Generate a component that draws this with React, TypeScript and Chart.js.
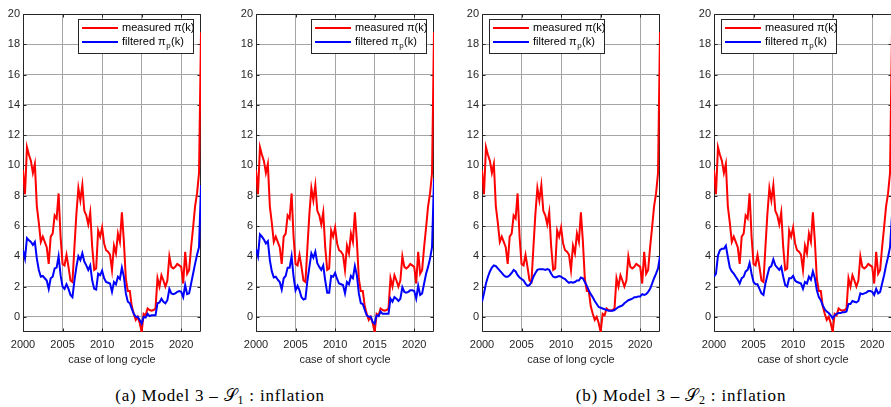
import React, { useEffect, useRef } from "react";
import { Chart, registerables } from "chart.js";

Chart.register(...registerables);

// ---------------- data (quarterly, starting 2000.0) ----------------
const START_YEAR = 2000;
const STEP_YEARS = 0.25;

const measuredInflation = [
  9.7, 8.1, 11.2, 10.7, 10.3, 9.5, 10.1, 7.3, 6.2, 4.95,
  5.3, 4.95, 4.6, 3.5, 5.3, 5.5, 6.7, 6.5, 8.15, 5.3,
  3.5, 3.4, 4.1, 3.3, 2.4, 2.3, 4.6, 6.8, 8.5, 7.7,
  8.7, 7.0, 6.7, 6.1, 6.9, 4.6, 3.1, 3.2, 5.7, 5.3,
  5.9, 4.85, 4.4, 4.3, 4.1, 3.1, 4.7, 4.2, 5.5, 4.95,
  6.9, 5.0, 2.5, 1.7, 1.7, 0.7, 0.2, -0.2, 0.0, -0.4,
  -1.0, 0.2, 0.1, 0.55, 0.45, 0.4, 0.45, 0.55, 2.55, 2.0,
  2.75, 2.4, 2.0, 2.4, 4.0, 3.3, 3.2, 3.3, 3.5, 3.4,
  3.3, 2.2, 4.3, 2.85, 3.1, 4.6, 5.9, 7.3, 8.15, 9.5,
  18.8,
];

const filteredS1Long = [
  4.4, 3.85, 5.2, 5.05, 4.95, 4.75, 4.95, 3.85, 3.1, 2.65,
  2.7, 2.55, 2.4, 1.85, 2.55, 2.65, 3.2, 3.25, 4.0, 2.75,
  2.0, 1.85, 2.15, 1.85, 1.45, 1.3, 2.4, 3.3, 4.0, 3.75,
  4.2, 3.65, 3.4, 3.1, 3.4, 2.4, 1.85, 1.8, 2.85, 2.75,
  3.05, 2.55, 2.3, 2.25, 2.2, 1.65, 2.3, 2.15, 2.65, 2.5,
  3.25, 2.65, 1.55, 1.0, 0.9, 0.55, 0.2, 0.0, 0.0, -0.2,
  -0.45, 0.0, -0.05, 0.2, 0.05, 0.1, 0.1, 0.1, 0.9, 0.95,
  1.2, 1.0, 0.9, 1.1, 1.85, 1.55, 1.5, 1.55, 1.65, 1.7,
  1.65, 1.3, 2.1, 1.5, 1.55, 2.2, 2.85, 3.5, 4.1, 4.6,
  8.7,
];

const filteredS1Short = [
  4.5, 4.0, 5.45, 5.3, 5.1, 4.85, 5.0, 3.75, 3.0, 2.6,
  2.65, 2.45, 2.3, 1.8, 2.55, 2.7, 3.25, 3.25, 4.0, 2.65,
  1.75, 2.05, 1.75, 1.3, 1.15, 1.2, 2.4, 3.3, 4.2, 3.9,
  4.3, 3.55, 3.3, 3.1, 3.4, 2.4, 1.6, 1.6, 2.7, 2.65,
  2.9, 2.5, 2.2, 2.15, 2.1, 1.55, 2.3, 2.15, 2.7, 2.55,
  3.35, 2.75, 1.55, 0.9, 0.85, 0.45, 0.1, 0.0, 0.0, -0.35,
  -0.45, 0.1, 0.05, 0.35, 0.2, 0.2, 0.2, 0.2, 1.2, 1.0,
  1.3, 1.2, 1.05, 1.2, 1.95, 1.65, 1.6, 1.65, 1.75, 1.75,
  1.7, 1.2, 2.05, 1.45, 1.55, 2.2, 2.85, 3.3, 3.85, 4.6,
  9.1,
];

const filteredS2Long = [
  1.0, 1.55, 2.2, 2.65, 3.0, 3.25, 3.4, 3.35, 3.2, 3.05,
  2.9, 2.75, 2.65, 2.65, 2.75, 2.9, 3.1, 3.0, 2.75, 2.6,
  2.5, 2.4, 2.2, 2.05, 2.1, 2.3, 2.65, 2.9, 3.1, 3.15,
  3.15, 3.15, 3.1, 3.15, 3.1, 2.85, 2.65, 2.6, 2.65, 2.7,
  2.65, 2.55, 2.5, 2.35, 2.25, 2.3, 2.25, 2.3, 2.4, 2.4,
  2.6, 2.55, 2.3, 2.05, 1.75, 1.5, 1.3, 1.05, 0.85, 0.65,
  0.6, 0.55, 0.5, 0.45, 0.4, 0.4, 0.4, 0.45, 0.55, 0.65,
  0.7, 0.75, 0.9, 1.0, 1.1, 1.15, 1.2, 1.3, 1.3, 1.35,
  1.35, 1.5, 1.45, 1.5, 1.65, 1.85, 2.2, 2.55, 2.85, 3.2,
  4.0,
];

const filteredS2Short = [
  2.65, 2.85, 4.05, 4.4, 4.5, 4.5, 4.7, 3.95, 3.25, 3.0,
  2.85, 2.65, 2.45, 2.2, 2.55, 2.65, 3.0, 3.1, 3.55, 2.85,
  2.3, 2.15, 2.15, 1.85, 1.55, 1.45, 2.2, 2.75, 3.25, 3.35,
  3.8, 3.4, 3.25, 3.1, 3.3, 2.65, 2.1, 2.0, 2.55, 2.55,
  2.7, 2.4, 2.3, 2.25, 2.2, 1.85, 2.3, 2.2, 2.65, 2.45,
  3.0, 2.55, 1.75, 1.3, 1.1, 0.75, 0.5, 0.35, 0.25, 0.1,
  -0.1, 0.1, 0.2, 0.25, 0.25, 0.3, 0.3, 0.35, 0.85, 0.85,
  1.05, 1.0, 0.95, 1.05, 1.55, 1.5, 1.55, 1.6, 1.7, 1.7,
  1.65, 1.45, 1.85, 1.55, 1.65, 2.2, 2.75, 3.4, 3.95, 4.6,
  6.7,
];

const xTickValues = [2000, 2005, 2010, 2015, 2020];
const yTickValues = [0, 2, 4, 6, 8, 10, 12, 14, 16, 18, 20];
const X_MIN = 2000;
const X_MAX = 2022.5;
const Y_MIN = -1;
const Y_MAX = 20;

const measuredLegend = "measured \u03c0(k)";
const filteredLegendMain = "filtered \u03c0";
const filteredLegendSub = "p";
const filteredLegendTail = "(k)";

const captionA = { lead: "(a) Model 3 \u2013 ", sym: "\ud835\udcae", sub: "1", tail: " : inflation" };
const captionB = { lead: "(b) Model 3 \u2013 ", sym: "\ud835\udcae", sub: "2", tail: " : inflation" };

// ---------------- styling / layout ----------------
const INK = "#262626";
const GRID = "#a4a4a4";
const RED = "#ff0000";
const BLUE = "#0000ff";
const SANS = "'Liberation Sans', Arial, Helvetica, sans-serif";
const LINE_W = 2;

const Y_AXIS_W = 23;
const PLOT_W = 178;
const PAD_R = 6;
const PLOT_TOP = 14;
const PLOT_BOTTOM = 332;
const CANVAS_H = 375;
const CANVAS_W = Y_AXIS_W + PLOT_W + PAD_R;

type PanelSpec = {
  plotLeft: number;
  filtered: number[];
  axisTitle: string;
  legendSide: "left" | "right";
};

const panels: PanelSpec[] = [
  { plotLeft: 23, filtered: filteredS1Long, axisTitle: "case of long cycle", legendSide: "right" },
  { plotLeft: 256, filtered: filteredS1Short, axisTitle: "case of short cycle", legendSide: "right" },
  { plotLeft: 482, filtered: filteredS2Long, axisTitle: "case of long cycle", legendSide: "left" },
  { plotLeft: 714, filtered: filteredS2Short, axisTitle: "case of short cycle", legendSide: "left" },
];

function toPoints(values: number[]) {
  return values.map((v, i) => ({ x: START_YEAR + i * STEP_YEARS, y: v }));
}

const framePlugin = {
  id: "matlabFrame",
  beforeDatasetsDraw(chart: any) {
    const { ctx, chartArea: a, scales } = chart;
    const L = Math.round(a.left) + 0.5;
    const R = Math.round(a.right) - 0.5;
    const T = Math.round(a.top) + 0.5;
    const B = Math.round(a.bottom) - 0.5;
    const TL = 3;
    ctx.save();
    ctx.strokeStyle = INK;
    ctx.lineWidth = 1;
    ctx.beginPath();
    ctx.rect(L, T, R - L, B - T);
    for (const v of xTickValues) {
      const px = Math.round(scales.x.getPixelForValue(v)) + 0.5;
      ctx.moveTo(px, B);
      ctx.lineTo(px, B - TL);
      ctx.moveTo(px, T);
      ctx.lineTo(px, T + TL);
    }
    for (const v of yTickValues) {
      const py = Math.round(scales.y.getPixelForValue(v)) + 0.5;
      ctx.moveTo(L, py);
      ctx.lineTo(L + TL, py);
      ctx.moveTo(R, py);
      ctx.lineTo(R - TL, py);
    }
    ctx.stroke();
    ctx.restore();
  },
  afterDraw(chart: any) {
    const { ctx, chartArea: a } = chart;
    const side = chart.options.plugins.matlabFrame?.legendSide || "right";
    const bw = 115;
    const bh = 34;
    const bx = side === "right" ? Math.round(a.right) - 8 - bw : Math.round(a.left) + 7;
    const by = Math.round(a.top) + 5;
    ctx.save();
    ctx.fillStyle = "#ffffff";
    ctx.fillRect(bx, by, bw, bh);
    ctx.strokeStyle = INK;
    ctx.lineWidth = 1;
    ctx.strokeRect(bx + 0.5, by + 0.5, bw, bh);
    const rows = [
      { color: RED, y: by + 9 },
      { color: BLUE, y: by + 23 },
    ];
    ctx.lineWidth = LINE_W;
    for (const r of rows) {
      ctx.strokeStyle = r.color;
      ctx.beginPath();
      ctx.moveTo(bx + 4, r.y);
      ctx.lineTo(bx + 40, r.y);
      ctx.stroke();
    }
    ctx.fillStyle = "#000000";
    ctx.textBaseline = "middle";
    ctx.textAlign = "left";
    ctx.font = `11px ${SANS}`;
    const tx = bx + 44;
    ctx.fillText(measuredLegend, tx, rows[0].y);
    ctx.fillText(filteredLegendMain, tx, rows[1].y);
    const w = ctx.measureText(filteredLegendMain).width;
    ctx.font = `8px ${SANS}`;
    ctx.fillText(filteredLegendSub, tx + w + 0.5, rows[1].y + 4);
    const ws = ctx.measureText(filteredLegendSub).width;
    ctx.font = `11px ${SANS}`;
    ctx.fillText(filteredLegendTail, tx + w + ws + 1, rows[1].y);
    ctx.restore();
  },
};

function Panel({ spec }: { spec: PanelSpec }) {
  const ref = useRef<HTMLCanvasElement | null>(null);
  useEffect(() => {
    const canvas = ref.current;
    if (!canvas) return;
    const font = { family: SANS, size: 11 };
    const chart = new Chart(canvas, {
      type: "line",
      data: {
        datasets: [
          {
            label: "measured",
            data: toPoints(measuredInflation),
            borderColor: RED,
            backgroundColor: RED,
            borderWidth: LINE_W,
            pointRadius: 0,
            tension: 0,
            fill: false,
            order: 2,
          },
          {
            label: "filtered",
            data: toPoints(spec.filtered),
            borderColor: BLUE,
            backgroundColor: BLUE,
            borderWidth: LINE_W,
            pointRadius: 0,
            tension: 0,
            fill: false,
            order: 1,
          },
        ],
      },
      options: {
        responsive: false,
        animation: false,
        devicePixelRatio: 1,
        layout: { padding: { top: PLOT_TOP, right: PAD_R, left: 0, bottom: 0 } },
        plugins: {
          legend: { display: false },
          tooltip: { enabled: false },
          matlabFrame: { legendSide: spec.legendSide },
        } as any,
        scales: {
          x: {
            type: "linear",
            min: X_MIN,
            max: X_MAX,
            afterBuildTicks: (s: any) => {
              s.ticks = xTickValues.map((v) => ({ value: v }));
            },
            afterFit: (s: any) => {
              s.height = CANVAS_H - PLOT_BOTTOM;
            },
            grid: { color: GRID, lineWidth: 1, drawTicks: false },
            border: { display: false },
            ticks: {
              font,
              color: INK,
              padding: 6,
              maxRotation: 0,
              minRotation: 0,
              autoSkip: false,
              callback: (v: any) => String(v),
            },
            title: {
              display: true,
              text: spec.axisTitle,
              font,
              color: INK,
              padding: { top: 0, bottom: 8 },
            },
          },
          y: {
            type: "linear",
            min: Y_MIN,
            max: Y_MAX,
            afterBuildTicks: (s: any) => {
              s.ticks = yTickValues.map((v) => ({ value: v }));
            },
            afterFit: (s: any) => {
              s.width = Y_AXIS_W;
            },
            grid: { color: GRID, lineWidth: 1, drawTicks: false },
            border: { display: false },
            ticks: {
              font,
              color: INK,
              padding: 3,
              autoSkip: false,
              callback: (v: any) => String(v),
            },
          },
        },
      },
      plugins: [framePlugin],
    } as any);
    return () => chart.destroy();
  }, [spec]);
  return (
    <canvas
      ref={ref}
      width={CANVAS_W}
      height={CANVAS_H}
      style={{
        position: "absolute",
        left: spec.plotLeft - Y_AXIS_W,
        top: 0,
        width: CANVAS_W,
        height: CANVAS_H,
      }}
    />
  );
}

function Caption({ c, center }: { c: typeof captionA; center: number }) {
  return (
    <div
      style={{
        position: "absolute",
        left: center - 200,
        width: 400,
        top: 385,
        textAlign: "center",
        fontFamily: "'Liberation Serif', 'DejaVu Serif', serif",
        fontSize: 17,
        lineHeight: "20px",
        letterSpacing: "0.8px",
        color: "#000",
        whiteSpace: "nowrap",
      }}
    >
      {c.lead}
      <span style={{ fontFamily: "'DejaVu Sans', 'Noto Sans', serif", fontStyle: "normal" }}>{c.sym}</span>
      <sub style={{ fontSize: 12, verticalAlign: "-3px" }}>{c.sub}</sub>
      {c.tail}
    </div>
  );
}

export default function App() {
  return (
    <div
      style={{
        position: "fixed",
        left: 0,
        top: 0,
        width: 891,
        height: 407,
        overflow: "hidden",
        background: "#ffffff",
      }}
    >
      {panels.map((p, i) => (
        <Panel key={i} spec={p} />
      ))}
      <Caption c={captionA} center={220} />
      <Caption c={captionB} center={681} />
    </div>
  );
}
